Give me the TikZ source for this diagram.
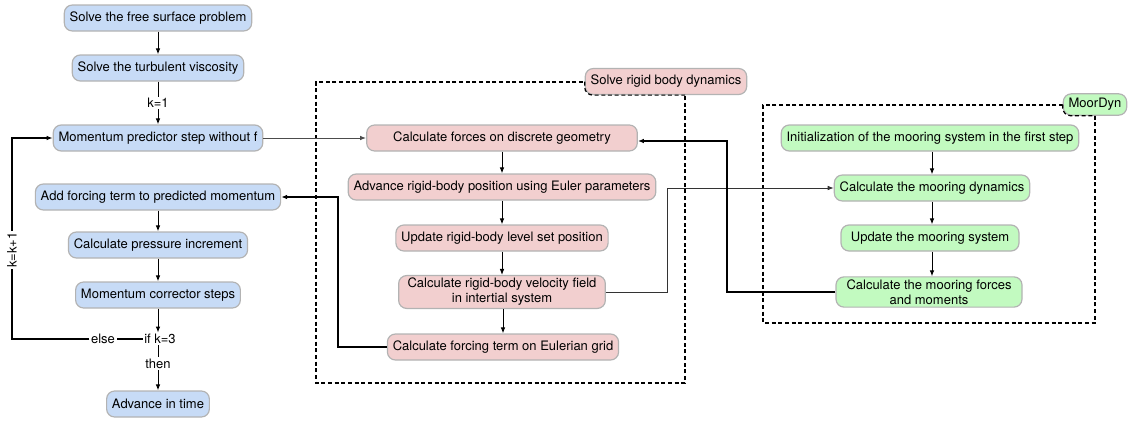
\documentclass[tikz,border=0pt]{standalone}
\usepackage{fontspec}
\setmainfont{TeX Gyre Heros}
\usetikzlibrary{arrows.meta}
\definecolor{bluefill}{HTML}{C7DBF6}
\definecolor{pinkfill}{HTML}{F2CFCF}
\definecolor{greenfill}{HTML}{C2FAC0}
\definecolor{boxgray}{HTML}{B3B3B3}
\begin{document}
\begin{tikzpicture}[x=0.75pt,y=-0.75pt,
  box/.style={draw=boxgray, line width=0.9pt, rounded corners=6pt, minimum height=19.5pt,
    inner xsep=4pt, inner ysep=2pt, font=\fontsize{9.75}{11.25}\selectfont, align=center},
  bbox/.style={box, fill=bluefill},
  pbox/.style={box, fill=pinkfill},
  gbox/.style={box, fill=greenfill},
  lbl/.style={fill=white, inner sep=1pt, font=\fontsize{9.75}{11.25}\selectfont},
  thinarrow/.style={line width=0.75pt, -{Latex[length=4.5pt,width=3.5pt]}},
  thickarrow/.style={line width=1.5pt, -{Latex[length=4.5pt,width=3.5pt]}},
  thickline/.style={line width=1.5pt},
  frame/.style={dashed, line width=0.9pt, dash pattern=on 3pt off 2pt},
]
\useasboundingbox (0,0) rectangle (1129,421);

% frames
\coordinate (fr1) at (685,383);
\coordinate (fr2) at (1095,323);
\draw[frame] (583,82) -- (316,82) -- (316,383) -- (fr1) -- (685,95);
\draw[frame] (1063,105) -- (763,105) -- (763,323) -- (fr2) -- (1095,115);

% blue column
\node[bbox] (fs) at (158,18) {Solve the free surface problem};
\node[bbox] (tv) at (158,68) {Solve the turbulent viscosity};
\node[bbox] (mp) at (158,138) {Momentum predictor step without f};
\node[bbox] (af) at (158,197) {Add forcing term to predicted momentum};
\node[bbox] (pi) at (158,245) {Calculate pressure increment};
\node[bbox] (mc) at (158,295) {Momentum corrector steps};
\node[lbl] (ifk) at (160,339) {if k=3};
\node[lbl] (els) at (103,339) {else};
\node[bbox] (at) at (158,404) {Advance in time};
\coordinate (lc1) at (12,339);

% pink column
\node[pbox] (sr) at (666,81.5) {Solve rigid body dynamics};
\node[pbox, minimum width=203pt] (cf) at (502,138) {Calculate forces on discrete geometry};
\node[pbox] (ar) at (502,187) {Advance rigid-body position using Euler parameters};
\node[pbox] (ul) at (502,238) {Update rigid-body level set position};
\node[pbox, minimum width=155pt] (cv) at (502,292) {Calculate rigid-body velocity field\\in intertial system};
\node[pbox] (ft) at (503,347) {Calculate forcing term on Eulerian grid};

% green column
\node[gbox, minimum height=16pt, inner ysep=1pt] (mdl) at (1095,104.5) {MoorDyn};
\node[gbox] (in) at (930,138) {Initialization of the mooring system in the first step};
\node[gbox] (md) at (932,188) {Calculate the mooring dynamics};
\node[gbox, minimum width=133.5pt] (um) at (930,238) {Update the mooring system};
\node[gbox, minimum width=139.5pt] (mf) at (929,292) {Calculate the mooring forces\\and moments};

% label overlays of frames
\draw[frame, rounded corners=6pt] (sr.west) -- (sr.south west) -- (sr.south -| fr1);
\draw[frame, rounded corners=6pt] (mdl.west) -- (mdl.south west) -- (mdl.south -| fr2);

% blue connectors
\draw[thinarrow] (fs) -- (tv);
\draw[thinarrow] (tv) -- node[lbl] {k=1} (mp);
\draw[thinarrow] (af) -- (pi);
\draw[thinarrow] (pi) -- (mc);
\draw[thinarrow] (mc.south) -- (mc.south |- ifk.north);
\draw[thinarrow] (mc.south |- ifk.south) -- node[lbl, pos=0.4] {then} (at.north);
\draw[thickline] (ifk.west) -- (els.east);
\draw[thickarrow] (els.west) -- (lc1) -- (lc1 |- mp.west) -- (mp.west);
\node[lbl, rotate=90] (kk) at (12,250) {k=k+1};

% pink connectors
\draw[thinarrow, black!70] (mp.east) -- (cf.west);
\draw[thinarrow] (cf) -- (ar);
\draw[thinarrow] (ar) -- (ul);
\draw[thinarrow] (ul) -- (cv);
\draw[thinarrow] (cv.south -| ft.north) -- (ft.north);
\coordinate (v1) at (667,0);
\draw[thinarrow, black!80] (cv.east) -| (v1 |- md.west) -- (md.west);
\coordinate (v2) at (338,0);
\draw[thickarrow] (ft.west) -| (v2 |- af.east) -- (af.east);
\coordinate (v3) at (727,141);
\draw[thickarrow] (mf.west) -| (v3) -- (cf.east |- v3);

% green connectors
\draw[thinarrow] (in.south -| 932,0) -- (md.north);
\draw[thinarrow] (md.south -| 932,0) -- (md.south |- um.north);
\draw[thinarrow] (md.south |- um.south) -- (md.south |- mf.north);
\end{tikzpicture}
\end{document}
